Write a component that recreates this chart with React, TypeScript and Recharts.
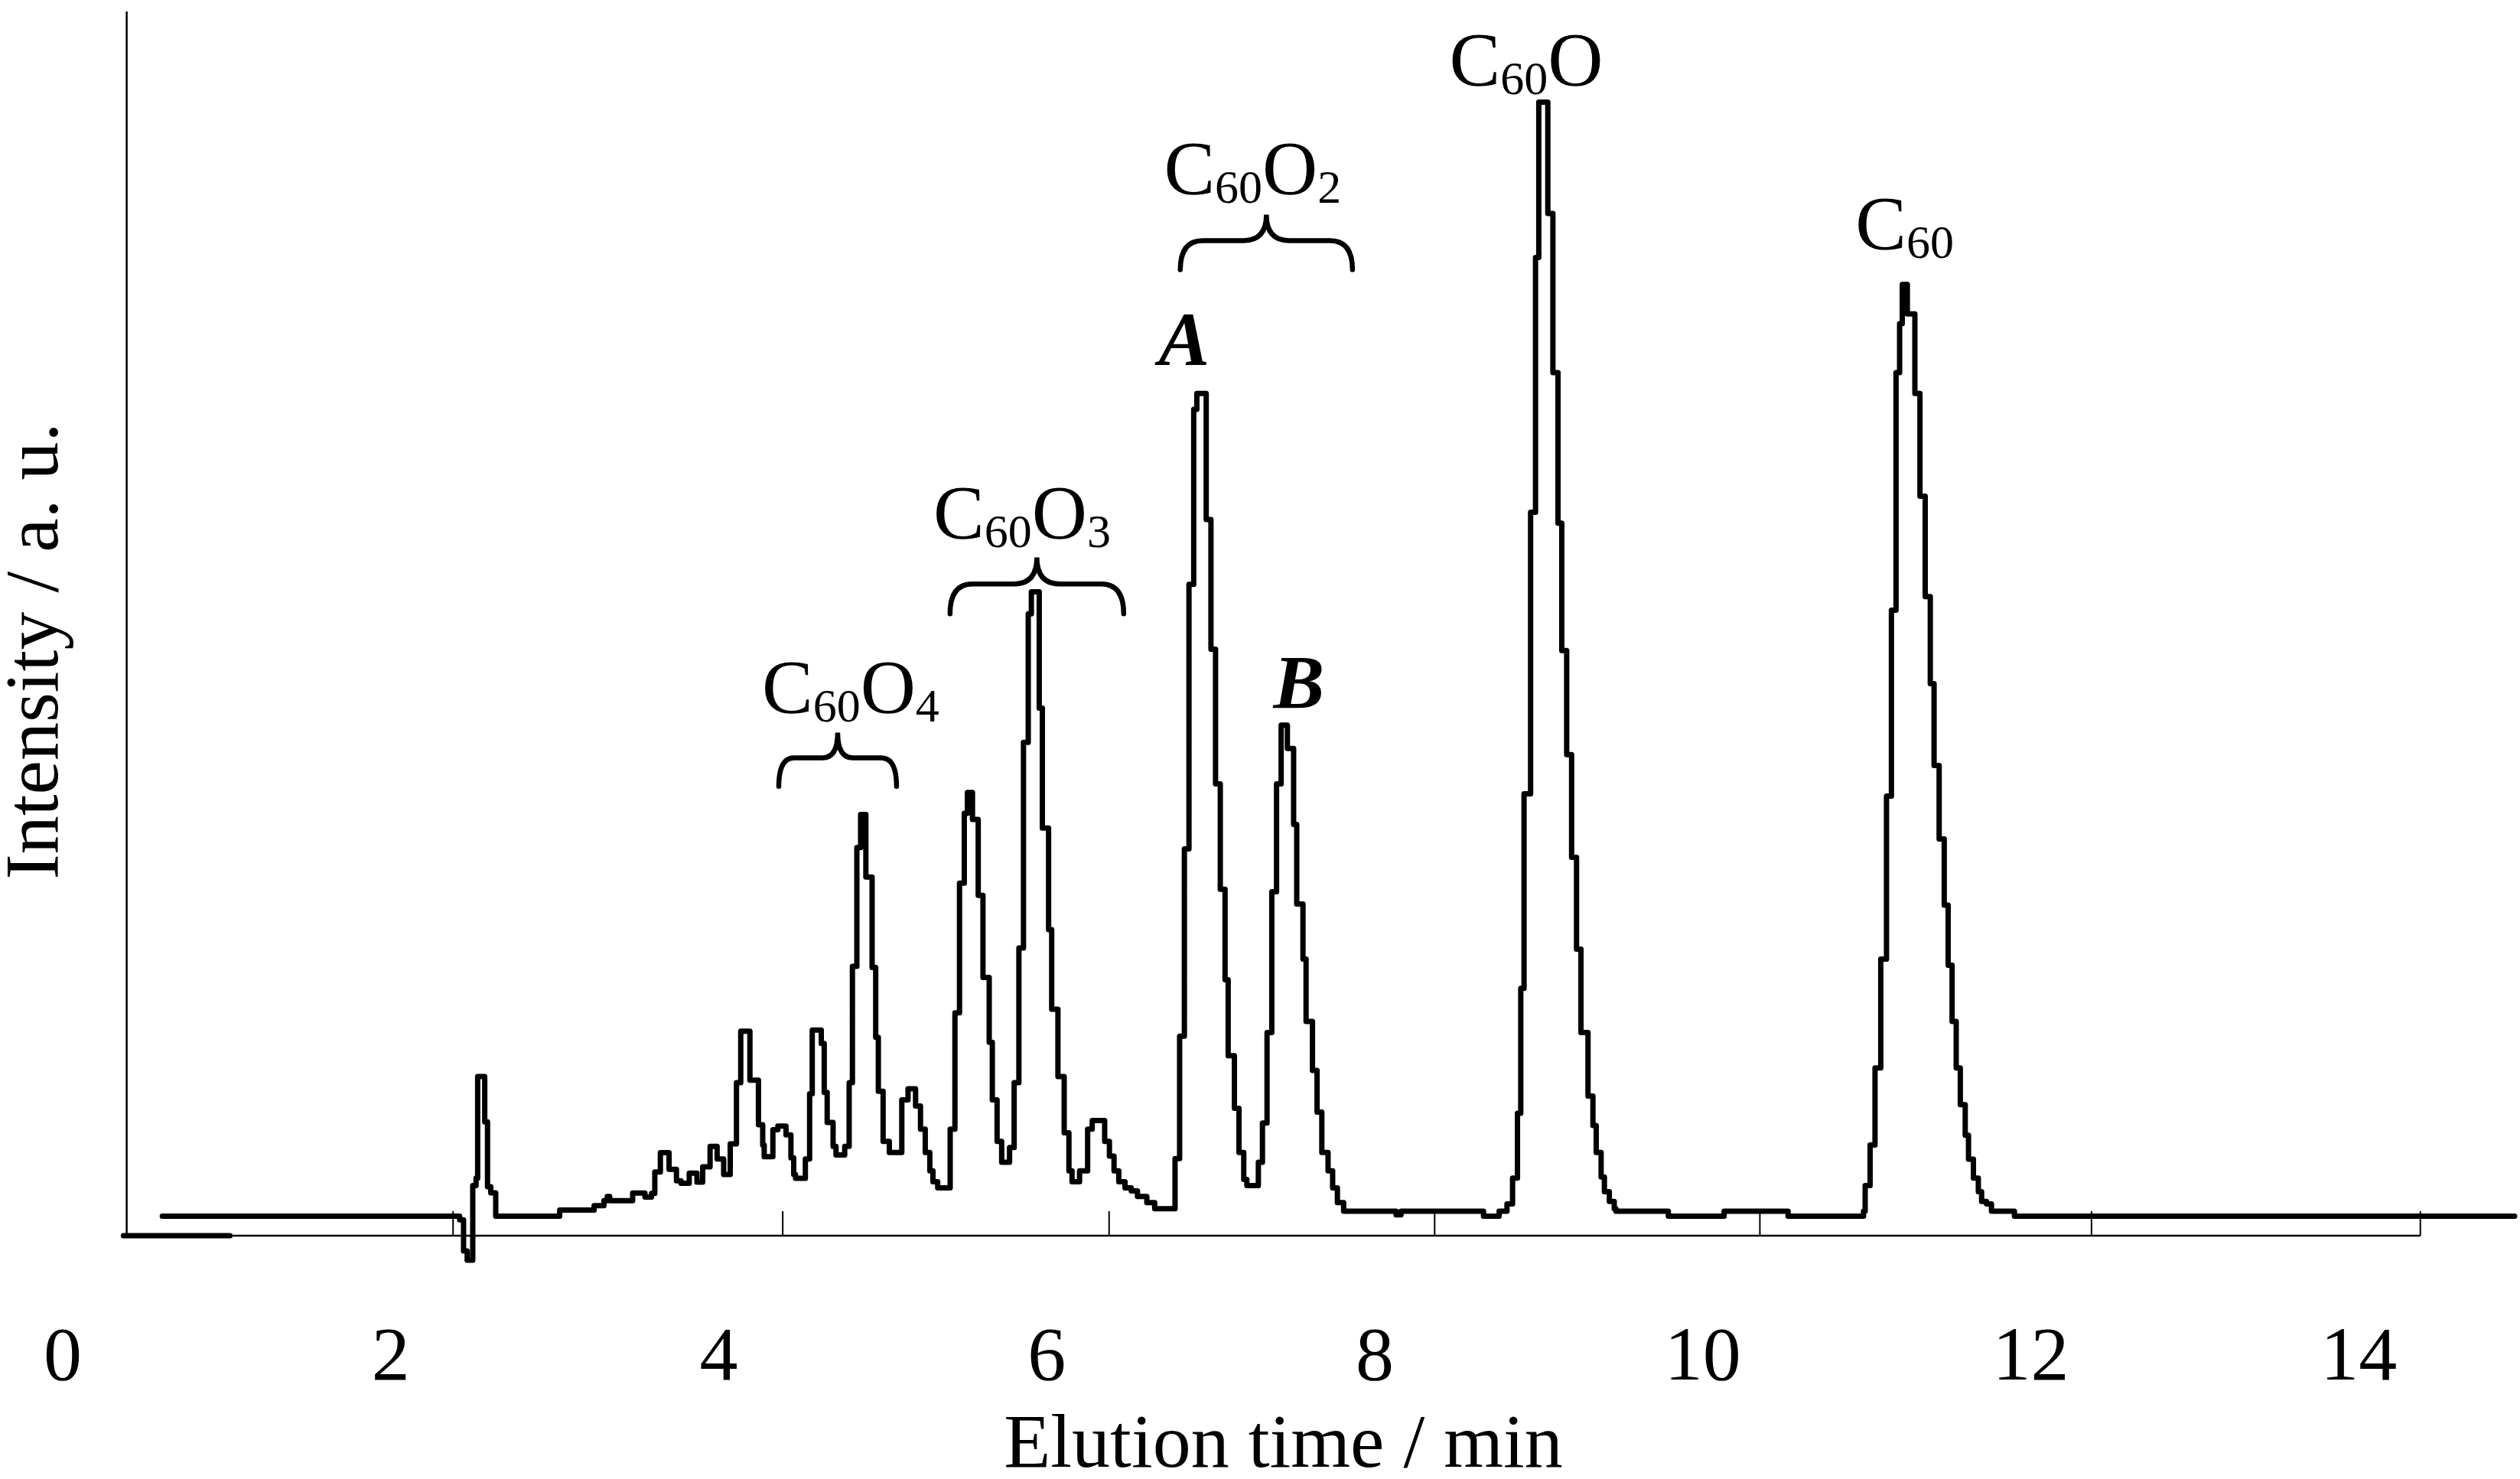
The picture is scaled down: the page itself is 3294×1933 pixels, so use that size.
import React from "react";
import {
  LineChart,
  Line,
  XAxis,
  YAxis,
  ReferenceLine,
  ReferenceArea,
  ReferenceDot,
  Label,
} from "recharts";

const FONT = '"Liberation Serif", "Times New Roman", serif';

// chromatogram, [elution time (min), intensity (a.u.)] at the start of each step
const injection = [
  [0.607, 1.6], [2.42, 1.3], [2.444, -1.25], [2.466, -2.0], [2.5, 4.1],
  [2.52, 4.7], [2.53, 13.0], [2.573, 9.3], [2.59, 4.0], [2.61, 3.5],
  [2.64, 1.6], [3.03, 2.1], [3.24, 2.45], [3.3, 2.86], [3.32, 3.2],
  [3.335, 2.86], [3.475, 3.48], [3.55, 3.15], [3.59, 3.45],
];

const c60o4Region = [
  [3.61, 5.2], [3.644, 6.78], [3.697, 5.42], [3.742, 4.48], [3.77, 4.28],
  [3.82, 5.11], [3.867, 4.38], [3.902, 5.63], [3.947, 7.3], [3.99, 6.26],
  [4.03, 5.0], [4.07, 7.5], [4.108, 12.5], [4.134, 16.7], [4.19, 12.7],
  [4.242, 9.07], [4.268, 7.4], [4.277, 6.46], [4.33, 8.65], [4.36, 8.96],
  [4.41, 8.23], [4.44, 6.36], [4.457, 5.0], [4.468, 4.69], [4.528, 6.26],
  [4.554, 11.6], [4.57, 16.8], [4.625, 15.7], [4.643, 11.7], [4.661, 9.25],
  [4.697, 7.3], [4.715, 6.6], [4.768, 7.3], [4.795, 12.5], [4.815, 22.0],
  [4.842, 31.7], [4.865, 34.4], [4.897, 29.3], [4.935, 21.9], [4.957, 16.2],
  [4.973, 11.8], [5.002, 7.7], [5.04, 6.8], [5.116, 11.1], [5.154, 12.0],
  [5.2, 10.6], [5.23, 8.7], [5.259, 6.8], [5.287, 5.3], [5.306, 4.4],
  [5.335, 3.9],
];

const c60o3Region = [
  [5.411, 8.7], [5.44, 18.2], [5.468, 28.8], [5.497, 34.5], [5.516, 36.2],
  [5.547, 34.0], [5.582, 27.8], [5.611, 21.1], [5.649, 15.8], [5.668, 11.1],
  [5.697, 7.7], [5.725, 6.0], [5.773, 7.2], [5.801, 12.5], [5.83, 23.5],
  [5.858, 40.3], [5.887, 50.8], [5.906, 52.6], [5.954, 43.1], [5.973, 33.3],
  [6.011, 25.0], [6.03, 18.5], [6.068, 13.0], [6.106, 8.4], [6.135, 5.3],
  [6.154, 4.4], [6.2, 5.3], [6.249, 8.7], [6.277, 9.4], [6.353, 7.7],
  [6.382, 6.5], [6.41, 5.3], [6.439, 4.4], [6.477, 3.9], [6.515, 3.66],
  [6.553, 3.2], [6.61, 2.7], [6.658, 2.2],
];

const c60o2Region = [
  [6.782, 6.3], [6.81, 16.3], [6.839, 31.6], [6.867, 53.2], [6.896, 67.5],
  [6.915, 68.8], [6.972, 58.5], [7.001, 47.9], [7.029, 36.9], [7.058, 28.3],
  [7.087, 20.9], [7.106, 14.7], [7.144, 10.4], [7.172, 6.8], [7.201, 4.6],
  [7.22, 4.1], [7.29, 6.0], [7.315, 9.2], [7.343, 16.6], [7.372, 28.1],
  [7.401, 36.9], [7.429, 41.7], [7.467, 39.8], [7.505, 33.6], [7.524, 27.1],
  [7.562, 22.6], [7.581, 17.5], [7.62, 13.5], [7.648, 10.1], [7.677, 6.8],
  [7.715, 5.3], [7.743, 3.9], [7.772, 2.7], [7.81, 2.0],
];

const c60oRegion = [
  [8.13, 1.7], [8.16, 2.0], [8.663, 1.6], [8.758, 2.0], [8.806, 2.6],
  [8.84, 4.7], [8.87, 10.0], [8.89, 20.2], [8.91, 36.1], [8.95, 59.1],
  [8.98, 79.9], [9.0, 92.6], [9.055, 83.5], [9.086, 70.5], [9.117, 58.2],
  [9.14, 47.8], [9.17, 39.3], [9.2, 30.9], [9.23, 23.4], [9.257, 16.6],
  [9.3, 11.4], [9.33, 9.0], [9.35, 6.8], [9.38, 4.8], [9.4, 3.6],
  [9.43, 2.8], [9.46, 2.2], [9.47, 2.0], [9.79, 1.6], [10.13, 2.0],
  [10.52, 1.6],
];

const c60Region = [
  [10.98, 2.0], [10.99, 4.1], [11.02, 7.4], [11.05, 13.7], [11.085, 22.6],
  [11.12, 35.9], [11.15, 51.1], [11.178, 70.5], [11.2, 74.5], [11.216, 77.7],
  [11.247, 75.3], [11.293, 68.8], [11.324, 60.4], [11.356, 52.2], [11.387, 45.1],
  [11.41, 38.4], [11.441, 32.4], [11.472, 27.0], [11.496, 22.1], [11.52, 17.5],
  [11.545, 13.7], [11.57, 10.7], [11.6, 8.2], [11.62, 6.25], [11.65, 4.7],
  [11.68, 3.6], [11.7, 2.8], [11.73, 2.6], [11.76, 2.0], [11.9, 1.6],
  [14.95, 1.6],
];

// short stray trace sitting on the axis at the far left
const strayTrace = [
  [0.37, 0],
  [1.02, 0],
];

const xTicks = [0, 2, 4, 6, 8, 10, 12, 14];
// the drawn frame is shifted against the tick labels
const frameTicks = [2.38, 4.39, 6.38, 8.365, 10.348, 12.37, 14.375];
const frameStart = 0.37;
const frameEnd = 14.375;
const yAxisAt = 0.39;

const compounds = [
  { t: 4.804, v: 42.75, parts: [["C", 0], ["60", 1], ["O", 0], ["4", 1]] },
  { t: 5.849, v: 57.0, parts: [["C", 0], ["60", 1], ["O", 0], ["3", 1]] },
  { t: 7.255, v: 85.1, parts: [["C", 0], ["60", 1], ["O", 0], ["2", 1]] },
  { t: 8.923, v: 94.0, parts: [["C", 0], ["60", 1], ["O", 0]] },
  { t: 11.231, v: 80.6, parts: [["C", 0], ["60", 1]] },
];

const isomers = [
  { t: 6.838, v: 71.1, name: "A" },
  { t: 7.537, v: 43.1, name: "B" },
];

const braces = [
  { from: 4.366, to: 5.084, bottom: 36.7, tip: 41.1 },
  { from: 5.41, to: 6.469, bottom: 50.8, tip: 55.4 },
  { from: 6.814, to: 7.864, bottom: 78.9, tip: 83.4 },
];

const toRows = (pts: number[][]) => pts.map(([t, v]) => ({ t, v }));
const trace = toRows([
  ...injection,
  ...c60o4Region,
  ...c60o3Region,
  ...c60o2Region,
  ...c60oRegion,
  ...c60Region,
]);

const formula = (parts: (string | number)[][]) => (p: any) => {
  let shifted = false;
  return (
    <text x={p.cx} y={p.cy} textAnchor="middle" fontFamily={FONT} fontSize={100} fill="#000">
      {parts.map(([s, sub], i) => {
        let dy = 0;
        if (sub && !shifted) { dy = 12; shifted = true; }
        else if (!sub && shifted) { dy = -12; shifted = false; }
        return (
          <tspan key={i} dy={dy} fontSize={sub ? 62 : 100}>
            {s}
          </tspan>
        );
      })}
    </text>
  );
};

const isomerLabel = (name: string) => (p: any) => (
  <text
    x={p.cx}
    y={p.cy}
    textAnchor="middle"
    fontFamily={FONT}
    fontSize={100}
    fontWeight="bold"
    fontStyle="italic"
    fill="#000"
  >
    {name}
  </text>
);

const braceShape = (p: any) => {
  const { x, y, width: w, height: h } = p;
  const r = w * 0.13;
  const m = x + w / 2;
  const hy = y + h * 0.47;
  const d = `M${x},${y + h} Q${x},${hy} ${x + r},${hy} L${m - r},${hy} Q${m},${hy} ${m},${y} Q${m},${hy} ${m + r},${hy} L${x + w - r},${hy} Q${x + w},${hy} ${x + w},${y + h}`;
  return <path d={d} fill="none" stroke="#000" strokeWidth={6.5} strokeLinecap="round" />;
};

const XTick = (p: any) => (
  <text x={p.x} y={p.y + 140} textAnchor="middle" fontFamily={FONT} fontSize={100} fill="#000">
    {p.payload.value}
  </text>
);

const xTitle = ({ viewBox }: any) => (
  <text
    x={viewBox.x + viewBox.width / 2 - 7}
    y={viewBox.y + 254}
    textAnchor="middle"
    fontFamily={FONT}
    fontSize={100}
    fill="#000"
  >
    Elution time / min
  </text>
);

const yTitle = ({ viewBox }: any) => {
  const x = viewBox.x + 75;
  const y = viewBox.y + viewBox.height / 2 + 12;
  return (
    <text
      x={x}
      y={y}
      transform={`rotate(-90 ${x} ${y})`}
      textAnchor="middle"
      fontFamily={FONT}
      fontSize={100}
      fill="#000"
    >
      Intensity / a. u.
    </text>
  );
};

export default function App() {
  return (
    <div style={{ position: "fixed", left: 0, top: 0, background: "#fff" }}>
      <LineChart
        width={3294}
        height={1933}
        data={trace}
        margin={{ top: 15, right: 7, left: 0, bottom: 0 }}
      >
        <XAxis
          dataKey="t"
          type="number"
          domain={[0, 14.95]}
          ticks={xTicks}
          height={270}
          axisLine={false}
          tickLine={false}
          tickSize={0}
          tickMargin={0}
          tick={XTick}
          interval={0}
        >
          <Label content={xTitle} />
        </XAxis>
        <YAxis
          type="number"
          domain={[-3, 100]}
          width={82}
          tick={false}
          axisLine={false}
          tickLine={false}
        >
          <Label content={yTitle} />
        </YAxis>

        {/* frame drawn by hand in the original: axis lines and inward ticks */}
        <ReferenceLine
          segment={[{ x: frameStart, y: 0 }, { x: frameEnd, y: 0 }]}
          stroke="#000"
          strokeWidth={2.5}
        />
        <ReferenceLine
          segment={[{ x: yAxisAt, y: 0 }, { x: yAxisAt, y: 100 }]}
          stroke="#000"
          strokeWidth={2.5}
        />
        {frameTicks.map((t) => (
          <ReferenceLine
            key={t}
            segment={[{ x: t, y: 0 }, { x: t, y: 2 }]}
            stroke="#000"
            strokeWidth={2}
          />
        ))}

        <Line
          data={toRows(strayTrace)}
          dataKey="v"
          type="linear"
          stroke="#000"
          strokeWidth={7}
          strokeLinecap="round"
          dot={false}
          isAnimationActive={false}
        />
        <Line
          dataKey="v"
          type="stepAfter"
          stroke="#000"
          strokeWidth={7}
          strokeLinecap="round"
          strokeLinejoin="round"
          dot={false}
          isAnimationActive={false}
        />

        {braces.map((b, i) => (
          <ReferenceArea
            key={i}
            x1={b.from}
            x2={b.to}
            y1={b.bottom}
            y2={b.tip}
            shape={braceShape}
          />
        ))}
        {compounds.map((c, i) => (
          <ReferenceDot key={i} x={c.t} y={c.v} r={0} shape={formula(c.parts)} />
        ))}
        {isomers.map((c) => (
          <ReferenceDot key={c.name} x={c.t} y={c.v} r={0} shape={isomerLabel(c.name)} />
        ))}
      </LineChart>
    </div>
  );
}
